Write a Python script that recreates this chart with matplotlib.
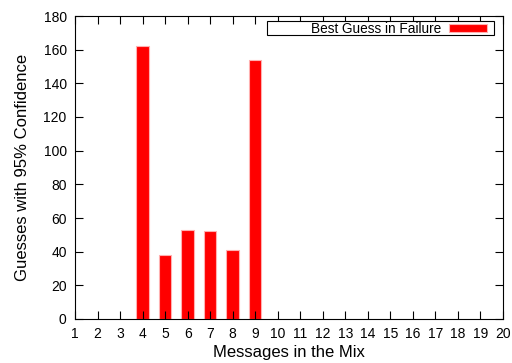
import matplotlib
matplotlib.use('Agg')
from matplotlib import pyplot as plt
from matplotlib.patches import Rectangle

# messages in the mix vs guesses
messages = [4, 5, 6, 7, 8, 9]
guesses = [162, 38, 53, 52, 41, 154]
x_ticks = list(range(1, 21))
y_ticks = list(range(0, 181, 20))


def main():
    plt.rcParams['font.family'] = 'Liberation Sans'
    fig = plt.figure(figsize=(5.12, 3.63), dpi=100)
    ax = fig.add_axes([75 / 512, 1 - 319 / 363, 428 / 512, 303 / 363])

    ax.bar(messages, guesses, width=0.55, color='#ff0000', edgecolor='#ffb0b0',
           linewidth=0.8, label='Best Guess in Failure')

    ax.set_xlim(1, 20)
    ax.set_ylim(0, 180)
    ax.set_xticks(x_ticks)
    ax.set_yticks(y_ticks)
    ax.tick_params(direction='in', top=True, right=True, length=6, labelsize=10, pad=6)
    ax.set_xlabel('Messages in the Mix', fontsize=12, labelpad=3)
    ax.set_ylabel('Guesses with 95% Confidence', fontsize=12, labelpad=10)

    # gnuplot-like key box, wider than the key itself
    box = Rectangle((0.449, 0.938), 0.53, 0.047, transform=ax.transAxes,
                    facecolor='white', edgecolor='black', linewidth=0.8, zorder=3)
    ax.add_patch(box)
    leg = ax.legend(loc='center right', fontsize=9.8, frameon=False, markerfirst=False,
                    handlelength=2.75, handleheight=0.5, handletextpad=0.6,
                    borderpad=0, borderaxespad=0,
                    bbox_to_anchor=(0.962, 0.958))
    leg.set_zorder(4)

    fig.savefig('out.png', dpi=100)


if __name__ == '__main__':
    main()
